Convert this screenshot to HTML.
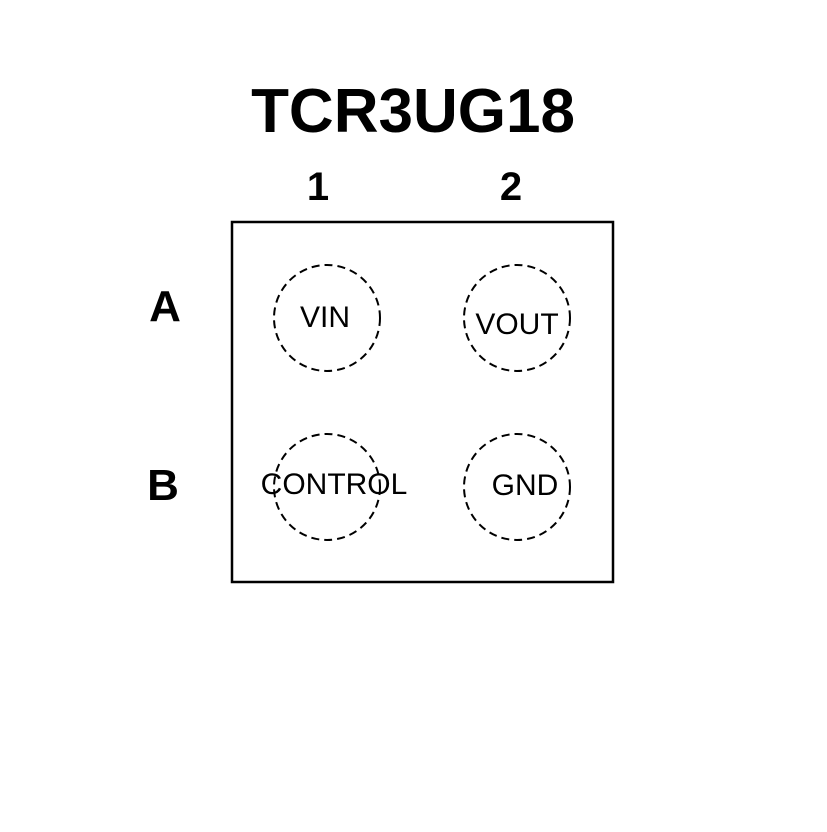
<!DOCTYPE html>
<html><head><style>html,body{margin:0;padding:0;background:#fff}</style></head>
<body>
<svg width="827" height="827" viewBox="0 0 827 827" xmlns="http://www.w3.org/2000/svg">
<rect width="827" height="827" fill="#fff"/>
<text x="413" y="132" text-anchor="middle" font-family="Liberation Sans, sans-serif" font-weight="bold" font-size="62">TCR3UG18</text>
<text x="318" y="200" text-anchor="middle" font-family="Liberation Sans, sans-serif" font-weight="bold" font-size="40">1</text>
<text x="511" y="200" text-anchor="middle" font-family="Liberation Sans, sans-serif" font-weight="bold" font-size="40">2</text>
<text x="165" y="321" text-anchor="middle" font-family="Liberation Sans, sans-serif" font-weight="bold" font-size="44">A</text>
<text x="163" y="500" text-anchor="middle" font-family="Liberation Sans, sans-serif" font-weight="bold" font-size="44">B</text>
<rect x="232" y="222" width="381" height="360" fill="none" stroke="#000" stroke-width="2.5"/>
<g fill="none" stroke="#000" stroke-width="2" stroke-dasharray="8 5">
<circle cx="327" cy="318" r="53"/>
<circle cx="517" cy="318" r="53"/>
<circle cx="327" cy="487" r="53"/>
<circle cx="517" cy="487" r="53"/>
</g>
<g font-family="Liberation Sans, sans-serif" font-size="30" text-anchor="middle" fill="#000">
<text x="325" y="327">VIN</text>
<text x="517" y="334">VOUT</text>
<text x="334" y="494">CONTROL</text>
<text x="525" y="495">GND</text>
</g>
</svg>
</body></html>
